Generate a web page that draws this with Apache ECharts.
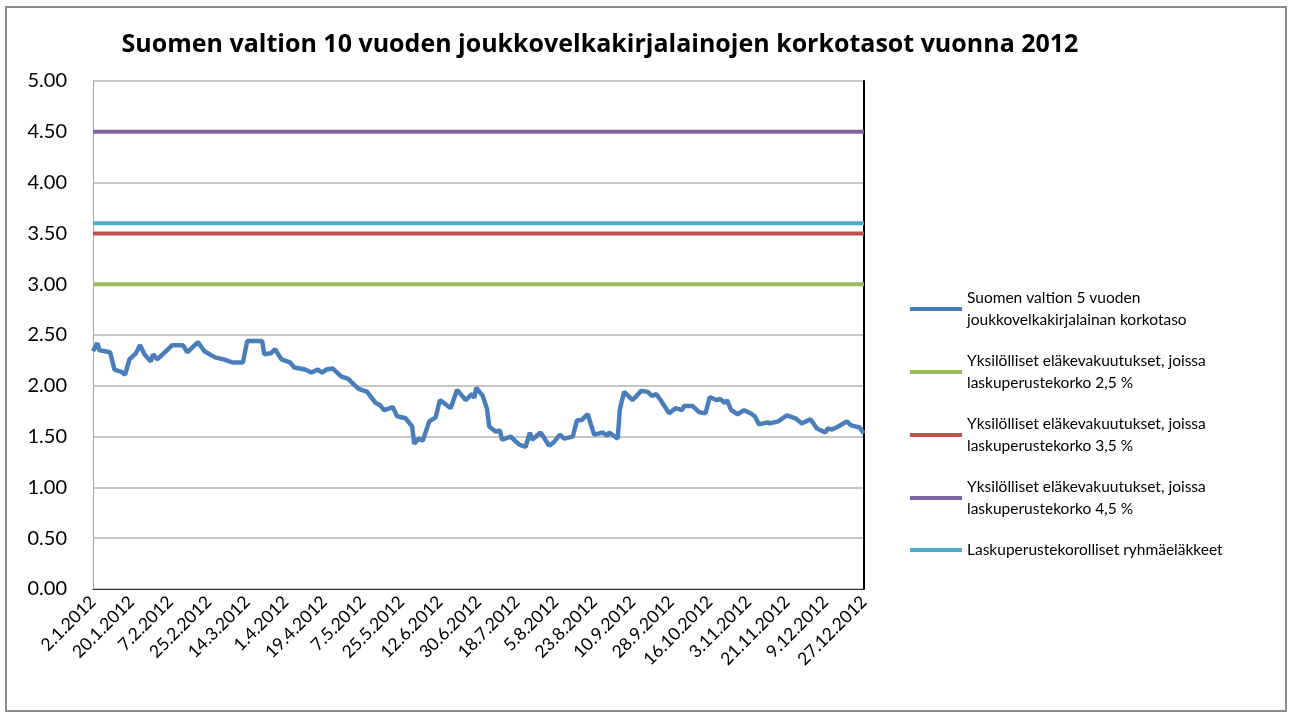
<!DOCTYPE html>
<html>
<head>
<meta charset="utf-8">
<script src="https://cdn.jsdelivr.net/npm/echarts@6/dist/echarts.min.js"></script>
<style>
  html, body { margin: 0; padding: 0; background: #fff; }
  #main { width: 1289px; height: 716px; }
</style>
</head>
<body>
<div id="main"></div>
<script>
// korkotaso, luettu kuvasta (päivämäärä, arvo)
var pointDates = ['2.1.2012','4.1.2012','5.1.2012','10.1.2012','12.1.2012','15.1.2012','17.1.2012','19.1.2012','22.1.2012','24.1.2012',
  '26.1.2012','29.1.2012','30.1.2012','1.2.2012','4.2.2012','8.2.2012','13.2.2012','15.2.2012','20.2.2012','23.2.2012',
  '28.2.2012','3.3.2012','7.3.2012','12.3.2012','14.3.2012','21.3.2012','22.3.2012','25.3.2012','27.3.2012','30.3.2012',
  '3.4.2012','5.4.2012','10.4.2012','13.4.2012','16.4.2012','18.4.2012','20.4.2012','23.4.2012','27.4.2012','30.4.2012',
  '5.5.2012','9.5.2012','13.5.2012','15.5.2012','17.5.2012','21.5.2012','23.5.2012','27.5.2012','30.5.2012','31.5.2012',
  '2.6.2012','4.6.2012','7.6.2012','10.6.2012','12.6.2012','17.6.2012','20.6.2012','24.6.2012','27.6.2012','28.6.2012',
  '29.6.2012','2.7.2012','4.7.2012','5.7.2012','8.7.2012','10.7.2012','11.7.2012','15.7.2012','17.7.2012','19.7.2012',
  '22.7.2012','24.7.2012','25.7.2012','29.7.2012','2.8.2012','4.8.2012','7.8.2012','9.8.2012','13.8.2012','15.8.2012',
  '17.8.2012','20.8.2012','23.8.2012','27.8.2012','29.8.2012','30.8.2012','3.9.2012','4.9.2012','6.9.2012','10.9.2012',
  '14.9.2012','17.9.2012','19.9.2012','21.9.2012','23.9.2012','27.9.2012','30.9.2012','3.10.2012','4.10.2012','8.10.2012',
  '11.10.2012','14.10.2012','16.10.2012','19.10.2012','21.10.2012','23.10.2012','24.10.2012','26.10.2012','29.10.2012','1.11.2012',
  '4.11.2012','6.11.2012','8.11.2012','12.11.2012','13.11.2012','17.11.2012','21.11.2012','25.11.2012','28.11.2012','2.12.2012',
  '5.12.2012','9.12.2012','10.12.2012','12.12.2012','15.12.2012','19.12.2012','21.12.2012','25.12.2012','27.12.2012'];
var pointValues = [2.34,2.42,2.35,2.33,2.16,2.14,2.11,2.26,2.32,2.40,
  2.31,2.24,2.31,2.26,2.32,2.40,2.40,2.33,2.43,2.34,
  2.28,2.26,2.23,2.23,2.44,2.44,2.31,2.32,2.36,2.26,
  2.23,2.18,2.16,2.13,2.16,2.13,2.16,2.17,2.09,2.07,
  1.97,1.94,1.83,1.81,1.76,1.79,1.70,1.68,1.60,1.43,
  1.48,1.46,1.65,1.69,1.86,1.78,1.96,1.86,1.92,1.88,
  1.98,1.90,1.77,1.60,1.55,1.56,1.47,1.50,1.46,1.42,
  1.40,1.54,1.47,1.54,1.41,1.44,1.52,1.48,1.50,1.66,
  1.66,1.72,1.52,1.54,1.51,1.54,1.48,1.77,1.94,1.86,
  1.95,1.94,1.90,1.92,1.86,1.73,1.78,1.76,1.80,1.80,
  1.74,1.73,1.89,1.86,1.87,1.83,1.86,1.76,1.72,1.76,
  1.73,1.70,1.62,1.64,1.63,1.65,1.71,1.68,1.63,1.67,
  1.58,1.54,1.58,1.57,1.60,1.65,1.61,1.59,1.53];

// vakiotasot
var levelNames = ['Yksilölliset eläkevakuutukset, joissa\nlaskuperustekorko 2,5 %',
  'Yksilölliset eläkevakuutukset, joissa\nlaskuperustekorko 3,5 %',
  'Yksilölliset eläkevakuutukset, joissa\nlaskuperustekorko 4,5 %',
  'Laskuperustekorolliset ryhmäeläkkeet'];
var levelValues = [3.0, 3.5, 4.5, 3.6];
var levelColors = ['#9bbb59', '#c0504d', '#8064a2', '#4bacc6'];

var yTicks = ['0.00','0.50','1.00','1.50','2.00','2.50','3.00','3.50','4.00','4.50','5.00'];

// kaikki päivät 2.1.2012 - 27.12.2012 kategorioiksi
var categories = [];
var d = new Date(2012, 0, 2);
var end = new Date(2012, 11, 27);
while (d <= end) {
    categories.push(d.getDate() + '.' + (d.getMonth() + 1) + '.' + d.getFullYear());
    d.setDate(d.getDate() + 1);
}

var first = categories[0];
var last = categories[categories.length - 1];

var font = 'Lato, "Liberation Sans", sans-serif';

var series = [{
    name: 'Suomen valtion 5 vuoden\njoukkovelkakirjalainan korkotaso',
    type: 'line',
    showSymbol: false,
    color: '#4a7ebb',
    lineStyle: { width: 4.5, color: '#4a7ebb' },
    data: pointDates.map(function (dt, i) { return [dt, pointValues[i]]; })
}];
for (var i = 0; i < levelValues.length; i++) {
    series.push({
        name: levelNames[i],
        type: 'line',
        showSymbol: false,
        color: levelColors[i],
        lineStyle: { width: 4, color: levelColors[i] },
        data: [[first, levelValues[i]], [last, levelValues[i]]]
    });
}

var myChart = echarts.init(document.getElementById('main'));
var option = {
    animation: false,
    backgroundColor: '#fff',
    title: {
        text: 'Suomen valtion 10 vuoden joukkovelkakirjalainojen korkotasot vuonna 2012',
        left: 595,
        textAlign: 'center',
        top: 27,
        textStyle: { fontFamily: '"Open Sans", sans-serif', fontWeight: 'bold', fontSize: 25, color: '#000' }
    },
    graphic: [{
        type: 'rect',
        shape: { x: 6, y: 7, width: 1280, height: 704 },
        style: { fill: 'none', stroke: '#8c8c8c', lineWidth: 2 },
        silent: true
    }],
    legend: {
        orient: 'vertical',
        left: 905,
        top: 282,
        icon: 'rect',
        itemWidth: 52,
        itemHeight: 4,
        itemGap: 19,
        textStyle: { fontFamily: font, fontSize: 15.5, color: '#000', lineHeight: 22 }
    },
    grid: { left: 93, right: 425, top: 81, bottom: 127 },
    xAxis: [{
        type: 'category',
        data: categories,
        boundaryGap: false,
        axisLine: { lineStyle: { color: '#a6a6a6', width: 1 } },
        axisTick: { show: false },
        axisLabel: { interval: 17, rotate: 45, fontFamily: font, fontSize: 17.5, color: '#000', margin: 10 },
        splitLine: { show: false }
    }, {
        type: 'category',
        data: categories,
        position: 'top',
        boundaryGap: false,
        axisLine: { lineStyle: { color: '#333', width: 1 } },
        axisTick: { show: false },
        axisLabel: { show: false }
    }],
    yAxis: [{
        type: 'value',
        min: 0,
        max: 5,
        interval: 0.5,
        axisLine: { show: true, lineStyle: { color: '#a6a6a6', width: 1 } },
        axisTick: { show: false },
        axisLabel: {
            fontFamily: font, fontSize: 20, color: '#000', margin: 26,
            formatter: function (v) { return yTicks[Math.round(v * 2)]; }
        },
        splitLine: { lineStyle: { color: '#b3b3b3', width: 1.5 } }
    }, {
        type: 'value',
        min: 0,
        max: 5,
        interval: 0.5,
        position: 'right',
        axisLine: { show: true, lineStyle: { color: '#000', width: 2 } },
        axisTick: { show: false },
        axisLabel: { show: false },
        splitLine: { show: false }
    }],
    series: series
};
myChart.setOption(option);
</script>
</body>
</html>
